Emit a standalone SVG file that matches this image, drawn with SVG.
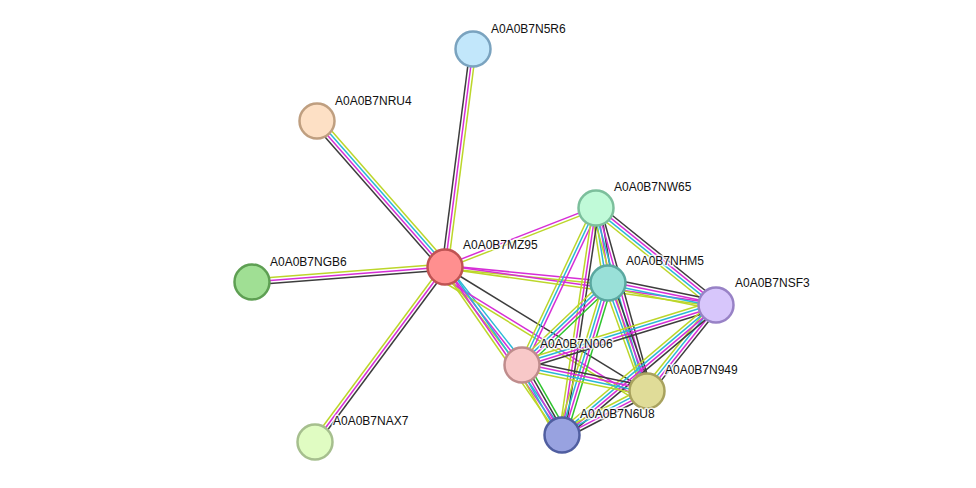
<svg xmlns="http://www.w3.org/2000/svg" width="976" height="488" viewBox="0 0 976 488">
<style>
line{stroke-width:1.5;fill:none}
.k{stroke:#3d3d3d}.m{stroke:#d62ed6}.c{stroke:#2ab8d6}.y{stroke:#bcd62a}.g{stroke:#2ec42e}
.node circle{stroke-width:2.5}
.node text{font-family:"Liberation Sans",Arial,sans-serif;font-size:12px;fill:#111;stroke:#fff;stroke-width:3;stroke-opacity:0.8;paint-order:stroke;stroke-linejoin:round}
</style>
<rect width="976" height="488" fill="#fff"/>
<g id="connectors">
<g transform="translate(445 267) rotate(-82.68)"><line class="k" x2="219.8" y1="-3" y2="-3"/><line class="m" x2="219.8"/><line class="y" x2="219.8" y1="3" y2="3"/></g>
<g transform="translate(445 267) rotate(-131.24)"><line class="k" x2="194.2" y1="-4.5" y2="-4.5"/><line class="m" x2="194.2" y1="-1.5" y2="-1.5"/><line class="c" x2="194.2" y1="1.5" y2="1.5"/><line class="y" x2="194.2" y1="4.5" y2="4.5"/></g>
<g transform="translate(445 267) rotate(175.56)"><line class="k" x2="193.6" y1="-3" y2="-3"/><line class="m" x2="193.6"/><line class="y" x2="193.6" y1="3" y2="3"/></g>
<g transform="translate(445 267) rotate(126.61)"><line class="k" x2="218" y1="-3" y2="-3"/><line class="m" x2="218"/><line class="y" x2="218" y1="3" y2="3"/></g>
<g transform="translate(445 267) rotate(-21.34)"><line class="m" x2="162.1" y1="-1.5" y2="-1.5"/><line class="y" x2="162.1" y1="1.5" y2="1.5"/></g>
<g transform="translate(445 267) rotate(5.61)"><line class="m" x2="163.8" y1="-1.5" y2="-1.5"/><line class="y" x2="163.8" y1="1.5" y2="1.5"/></g>
<g transform="translate(445 267) rotate(7.98)"><line class="m" x2="273.7" y1="-1.5" y2="-1.5"/><line class="y" x2="273.7" y1="1.5" y2="1.5"/></g>
<g transform="translate(445 267) rotate(51.84)"><line class="c" x2="124.6" y1="-3" y2="-3"/><line class="m" x2="124.6"/><line class="y" x2="124.6" y1="3" y2="3"/></g>
<g transform="translate(445 267) rotate(31.54)"><line class="k" x2="237"/><line class="m" x2="237" y1="10.5" y2="10.5"/><line class="y" x2="237" y1="13.5" y2="13.5"/></g>
<g transform="translate(445 267) rotate(55.15)"><line class="c" x2="204.7" y1="-3" y2="-3"/><line class="m" x2="204.7"/><line class="y" x2="204.7" y1="3" y2="3"/></g>
<g transform="translate(596 208) rotate(80.9)"><line class="k" x2="76" y1="-4.5" y2="-4.5"/><line class="m" x2="76" y1="-1.5" y2="-1.5"/><line class="c" x2="76" y1="1.5" y2="1.5"/><line class="y" x2="76" y1="4.5" y2="4.5"/></g>
<g transform="translate(596 208) rotate(38.95)"><line class="k" x2="154.3" y1="-4.5" y2="-4.5"/><line class="m" x2="154.3" y1="-1.5" y2="-1.5"/><line class="c" x2="154.3" y1="1.5" y2="1.5"/><line class="y" x2="154.3" y1="4.5" y2="4.5"/></g>
<g transform="translate(596 208) rotate(115.23)"><line class="m" x2="173.6" y1="-3" y2="-3"/><line class="c" x2="173.6"/><line class="y" x2="173.6" y1="3" y2="3"/></g>
<g transform="translate(596 208) rotate(74.43)"><line class="k" x2="190" y1="-4.5" y2="-4.5"/><line class="m" x2="190" y1="-1.5" y2="-1.5"/><line class="c" x2="190" y1="1.5" y2="1.5"/><line class="y" x2="190" y1="4.5" y2="4.5"/></g>
<g transform="translate(596 208) rotate(98.52)"><line class="k" x2="229.5" y1="-3" y2="-3"/><line class="m" x2="229.5"/><line class="y" x2="229.5" y1="3" y2="3"/></g>
<g transform="translate(608 283) rotate(11.51)"><line class="k" x2="110.2" y1="-4.5" y2="-4.5"/><line class="m" x2="110.2" y1="-1.5" y2="-1.5"/><line class="c" x2="110.2" y1="1.5" y2="1.5"/><line class="y" x2="110.2" y1="4.5" y2="4.5"/></g>
<g transform="translate(608 283) rotate(136.36)"><line class="g" x2="118.8" y1="-4.5" y2="-4.5"/><line class="m" x2="118.8" y1="-1.5" y2="-1.5"/><line class="c" x2="118.8" y1="1.5" y2="1.5"/><line class="y" x2="118.8" y1="4.5" y2="4.5"/></g>
<g transform="translate(608 283) rotate(70.15)"><line class="k" x2="114.8" y1="-4.5" y2="-4.5"/><line class="m" x2="114.8" y1="-1.5" y2="-1.5"/><line class="c" x2="114.8" y1="1.5" y2="1.5"/><line class="y" x2="114.8" y1="4.5" y2="4.5"/></g>
<g transform="translate(608 283) rotate(106.84)"><line class="g" x2="158.8" y1="-4.5" y2="-4.5"/><line class="m" x2="158.8" y1="-1.5" y2="-1.5"/><line class="c" x2="158.8" y1="1.5" y2="1.5"/><line class="y" x2="158.8" y1="4.5" y2="4.5"/></g>
<g transform="translate(716 305) rotate(162.81)"><line class="k" x2="203.1" y1="-4.5" y2="-4.5"/><line class="m" x2="203.1" y1="-1.5" y2="-1.5"/><line class="c" x2="203.1" y1="1.5" y2="1.5"/><line class="y" x2="203.1" y1="4.5" y2="4.5"/></g>
<g transform="translate(716 305) rotate(128.74)"><line class="k" x2="110.3" y1="-4.5" y2="-4.5"/><line class="m" x2="110.3" y1="-1.5" y2="-1.5"/><line class="c" x2="110.3" y1="1.5" y2="1.5"/><line class="y" x2="110.3" y1="4.5" y2="4.5"/></g>
<g transform="translate(716 305) rotate(139.83)"><line class="k" x2="201.5" y1="-4.5" y2="-4.5"/><line class="m" x2="201.5" y1="-1.5" y2="-1.5"/><line class="c" x2="201.5" y1="1.5" y2="1.5"/><line class="y" x2="201.5" y1="4.5" y2="4.5"/></g>
<g transform="translate(522 365) rotate(11.75)"><line class="k" x2="127.7" y1="-4.5" y2="-4.5"/><line class="m" x2="127.7" y1="-1.5" y2="-1.5"/><line class="c" x2="127.7" y1="1.5" y2="1.5"/><line class="y" x2="127.7" y1="4.5" y2="4.5"/></g>
<g transform="translate(522 365) rotate(60.26)"><line class="g" x2="80.6" y1="-6" y2="-6"/><line class="k" x2="80.6" y1="-3" y2="-3"/><line class="m" x2="80.6"/><line class="c" x2="80.6" y1="3" y2="3"/><line class="y" x2="80.6" y1="6" y2="6"/></g>
<g transform="translate(647 391) rotate(152.63)"><line class="k" x2="95.7" y1="-4.5" y2="-4.5"/><line class="m" x2="95.7" y1="-1.5" y2="-1.5"/><line class="c" x2="95.7" y1="1.5" y2="1.5"/><line class="y" x2="95.7" y1="4.5" y2="4.5"/></g>
</g>
<g id="n-N5R6" class="node"><circle cx="473" cy="49" r="17.5" fill="#c2e7fb" stroke="#7aa3bf"/><text x="491" y="33">A0A0B7N5R6</text></g>
<g id="n-NRU4" class="node"><circle cx="317" cy="121" r="17.5" fill="#fde0c5" stroke="#bf9f80"/><text x="335" y="105">A0A0B7NRU4</text></g>
<g id="n-NGB6" class="node"><circle cx="252" cy="282" r="17.5" fill="#a0df94" stroke="#5e9f53"/><text x="270" y="266">A0A0B7NGB6</text></g>
<g id="n-MZ95" class="node"><circle cx="445" cy="267" r="17.5" fill="#ff8f8f" stroke="#bf5353"/><text x="463" y="249">A0A0B7MZ95</text></g>
<g id="n-NAX7" class="node"><circle cx="315" cy="442" r="17.5" fill="#e0fcc2" stroke="#a6bf8e"/><text x="333" y="425">A0A0B7NAX7</text></g>
<g id="n-NW65" class="node"><circle cx="596" cy="208" r="17.5" fill="#c0fad8" stroke="#7cbf9c"/><text x="614" y="191">A0A0B7NW65</text></g>
<g id="n-NHM5" class="node"><circle cx="608" cy="283" r="17.5" fill="#99e0d8" stroke="#5aa8a0"/><text x="626" y="265">A0A0B7NHM5</text></g>
<g id="n-NSF3" class="node"><circle cx="716" cy="305" r="17.5" fill="#d7c6fb" stroke="#9882c6"/><text x="735" y="287">A0A0B7NSF3</text></g>
<g id="n-N006" class="node"><circle cx="522" cy="365" r="17.5" fill="#f8c8c8" stroke="#bf8c8c"/><text x="540" y="348">A0A0B7N006</text></g>
<g id="n-N949" class="node"><circle cx="647" cy="391" r="17.5" fill="#e0dc98" stroke="#a8a25e"/><text x="665" y="374">A0A0B7N949</text></g>
<g id="n-N6U8" class="node"><circle cx="562" cy="435" r="17.5" fill="#98a2e0" stroke="#505ea0"/><text x="580" y="418">A0A0B7N6U8</text></g>
</svg>
